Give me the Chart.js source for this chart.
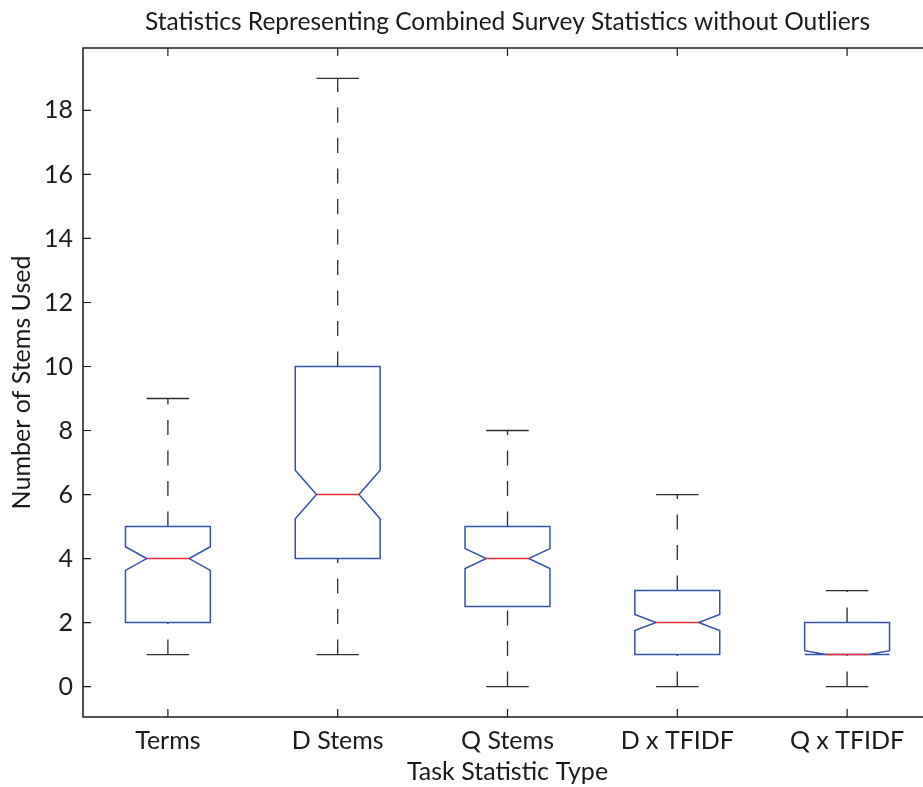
<!DOCTYPE html>
<html>
<head>
<meta charset="utf-8">
<script src="https://cdn.jsdelivr.net/npm/chart.js@4.4.1/dist/chart.umd.min.js"></script>
<style>
  html, body { margin: 0; padding: 0; background: #fff; overflow: hidden; }
  #wrap { width: 923px; height: 787px; overflow: hidden; }
</style>
</head>
<body>
<div id="wrap"><canvas id="box" width="950" height="787"></canvas></div>
<script>
const categories = ['Terms', 'D Stems', 'Q Stems', 'D x TFIDF', 'Q x TFIDF']
const whiskerLow = [1, 1, 0, 0, 0]
const lowerQuartile = [2, 4, 2.5, 1, 1]
const medians = [4, 6, 4, 2, 1]
const upperQuartile = [5, 10, 5, 3, 2]
const whiskerHigh = [9, 19, 8, 6, 3]
const notchHalf = [0.37, 0.76, 0.31, 0.25, 0.12]
const yTicks = [0, 2, 4, 6, 8, 10, 12, 14, 16, 18]

const FAMILY = 'Lato, "Open Sans", sans-serif'
const FONT = { family: FAMILY, size: 25, weight: 'normal' }
const TITLE_FONT = { family: FAMILY, size: 24.5, weight: 'normal' }
const INK = '#1a1a1a'
const BOX_BLUE = 'rgb(52, 82, 172)'
const MEDIAN_RED = 'rgb(232, 44, 52)'
const WHISKER = '#2b2b2b'

// notched boxes, whiskers, caps, plus the inward tick marks and frame
const boxPlot = {
  id: 'boxPlot',
  afterDatasetsDraw(chart) {
    const { ctx, chartArea: a, scales: { x, y } } = chart
    const halfBox = (x.getPixelForValue(1) - x.getPixelForValue(0)) * 0.25
    ctx.save()

    categories.forEach((c, i) => {
      const cx = x.getPixelForValue(i)
      const pLow = y.getPixelForValue(whiskerLow[i])
      const pHigh = y.getPixelForValue(whiskerHigh[i])
      const pQ1 = y.getPixelForValue(lowerQuartile[i])
      const pQ3 = y.getPixelForValue(upperQuartile[i])
      const pMed = y.getPixelForValue(medians[i])
      const pNLo = y.getPixelForValue(Math.max(lowerQuartile[i], medians[i] - notchHalf[i]))
      const pNHi = y.getPixelForValue(Math.min(upperQuartile[i], medians[i] + notchHalf[i]))

      // whiskers, dashed from the lower end upward
      ctx.strokeStyle = WHISKER
      ctx.lineWidth = 1.3
      ctx.setLineDash([15, 15.5])
      ctx.beginPath()
      ctx.moveTo(cx, pLow); ctx.lineTo(cx, pQ1)
      ctx.moveTo(cx, pQ3); ctx.lineTo(cx, pHigh)
      ctx.stroke()
      ctx.setLineDash([])

      // caps
      ctx.beginPath()
      ctx.moveTo(cx - halfBox / 2, pLow); ctx.lineTo(cx + halfBox / 2, pLow)
      ctx.moveTo(cx - halfBox / 2, pHigh); ctx.lineTo(cx + halfBox / 2, pHigh)
      ctx.stroke()

      // notched box
      ctx.strokeStyle = BOX_BLUE
      ctx.lineWidth = 1.5
      ctx.beginPath()
      ctx.moveTo(cx - halfBox, pQ1)
      ctx.lineTo(cx - halfBox, pNLo)
      ctx.lineTo(cx - halfBox / 2, pMed)
      ctx.lineTo(cx - halfBox, pNHi)
      ctx.lineTo(cx - halfBox, pQ3)
      ctx.lineTo(cx + halfBox, pQ3)
      ctx.lineTo(cx + halfBox, pNHi)
      ctx.lineTo(cx + halfBox / 2, pMed)
      ctx.lineTo(cx + halfBox, pNLo)
      ctx.lineTo(cx + halfBox, pQ1)
      ctx.closePath()
      ctx.stroke()

      // median
      ctx.strokeStyle = MEDIAN_RED
      ctx.beginPath()
      ctx.moveTo(cx - halfBox / 2, pMed); ctx.lineTo(cx + halfBox / 2, pMed)
      ctx.stroke()
    })

    // frame and inward ticks
    ctx.strokeStyle = INK
    ctx.lineWidth = 1.5
    ctx.strokeRect(a.left, a.top, a.right - a.left, a.bottom - a.top)
    ctx.lineWidth = 1.2
    ctx.beginPath()
    y.ticks.forEach(t => {
      const py = y.getPixelForValue(t.value)
      ctx.moveTo(a.left, py); ctx.lineTo(a.left + 8, py)
      ctx.moveTo(a.right, py); ctx.lineTo(a.right - 8, py)
    })
    categories.forEach((c, i) => {
      const px = x.getPixelForValue(i)
      ctx.moveTo(px, a.bottom); ctx.lineTo(px, a.bottom - 8)
      ctx.moveTo(px, a.top); ctx.lineTo(px, a.top + 8)
    })
    ctx.stroke()
    ctx.restore()
  }
}

new Chart(document.getElementById('box'), {
  type: 'bar',
  data: { labels: categories, datasets: [] },
  plugins: [boxPlot],
  options: {
    responsive: false,
    animation: false,
    layout: { padding: { left: 0, right: 18, top: 0, bottom: 0 } },
    plugins: {
      legend: { display: false },
      tooltip: { enabled: false },
      title: {
        display: true,
        text: 'Statistics Representing Combined Survey Statistics without Outliers',
        fullSize: false,
        color: INK,
        font: TITLE_FONT,
        padding: { top: 7, bottom: 11.6 }
      }
    },
    scales: {
      x: {
        type: 'category',
        offset: true,
        grid: { display: false, drawTicks: false },
        border: { display: false },
        ticks: { color: INK, font: FONT, padding: 9, maxRotation: 0 },
        title: { display: true, text: 'Task Statistic Type', color: INK, font: FONT, padding: { top: 0, bottom: 0 } },
        afterFit(scale) { scale.height = 70 }
      },
      y: {
        type: 'linear',
        min: -0.95,
        max: 19.95,
        grid: { display: false, drawTicks: false },
        border: { display: false },
        afterBuildTicks(scale) { scale.ticks = yTicks.map(v => ({ value: v })) },
        ticks: { color: INK, font: FONT, padding: 10 },
        title: { display: true, text: 'Number of Stems Used', color: INK, font: FONT, padding: { top: 7, bottom: 0 } },
        afterFit(scale) { scale.width = 83 }
      }
    }
  }
})
</script>
</body>
</html>
